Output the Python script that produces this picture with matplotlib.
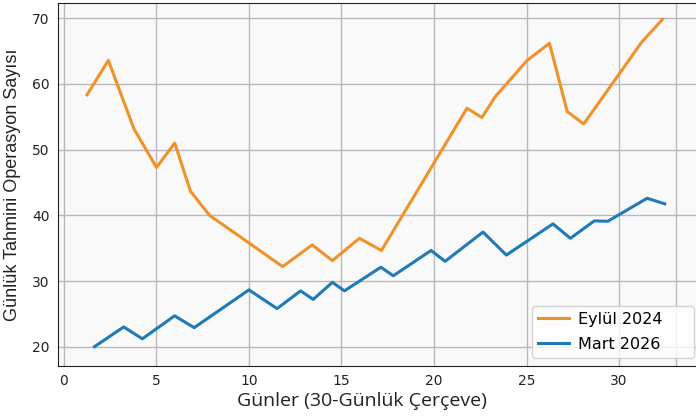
import matplotlib.pyplot as plt

# Eylül 2024 serisi
eylul_x = [1.25, 2.4, 3.78, 5.0, 5.99, 6.84, 7.87, 11.82, 13.42, 14.51, 15.97, 17.16,
           21.78, 22.59, 23.32, 25.04, 26.24, 27.2, 28.09, 31.22, 32.35]
eylul_y = [58.35, 63.6, 53.2, 47.3, 51.0, 43.66, 40.0, 32.2, 35.5, 33.1, 36.5, 34.65,
           56.3, 54.9, 58.1, 63.6, 66.2, 55.8, 53.9, 66.35, 69.85]

# Mart 2026 serisi
mart_x = [1.65, 3.23, 4.24, 5.98, 7.04, 10.0, 11.52, 12.79, 13.47, 14.51, 15.16, 17.13,
          17.8, 19.84, 20.6, 22.65, 23.91, 26.43, 27.37, 28.66, 29.4, 31.52, 32.47]
mart_y = [20.0, 23.0, 21.2, 24.7, 22.9, 28.65, 25.8, 28.5, 27.2, 29.8, 28.5, 32.1,
          30.8, 34.65, 33.0, 37.45, 33.95, 38.7, 36.5, 39.15, 39.1, 42.6, 41.75]

x_ticks = [0, 5, 10, 15, 20, 25, 30]
y_ticks = [20, 30, 40, 50, 60, 70]

fig = plt.figure(figsize=(6.96, 4.17), dpi=100)
ax = fig.add_axes([58 / 696, 1 - 366 / 417, 638 / 696, 363 / 417])
ax.set_facecolor('#f9f9f9')

ax.plot(eylul_x, eylul_y, color='#f0922a', lw=2.2, label='Eylül 2024')
ax.plot(mart_x, mart_y, color='#1f7ab8', lw=2.2, label='Mart 2026')

ax.set_xlim(-0.32, 34.16)
ax.set_ylim(17.06, 72.33)
ax.set_xticks(x_ticks)
ax.set_yticks(y_ticks)
ax.tick_params(labelsize=10, length=0, pad=6, colors='#222222')
ax.grid(True, color='#b8b8be', lw=1.0)
ax.axvline(33.1, color='#b8b8be', lw=1.0, zorder=0.5)
ax.set_axisbelow(True)
ax.spines['right'].set_visible(False)
for s in ['left', 'bottom', 'top']:
    ax.spines[s].set_color('#222222')

ax.set_xlabel('Günler (30-Günlük Çerçeve)', fontsize=14, family='Open Sans', color='#222222')
ax.set_ylabel('Günlük Tahmini Operasyon Sayısı', fontsize=13, family='Liberation Sans',
              color='#222222')
ax.xaxis.set_label_coords(0.4765, -0.072)
ax.yaxis.set_label_coords(-0.058, 0.5)

leg = ax.legend(loc='lower left', bbox_to_anchor=(0.743, 0.022, 0.254, 0.165),
                mode='expand', borderaxespad=0, fontsize=11.5, labelspacing=0.6,
                handlelength=1.9, handletextpad=0.6, framealpha=0.8,
                edgecolor='#cccccc', fancybox=True)

fig.savefig('out.png', dpi=100)
